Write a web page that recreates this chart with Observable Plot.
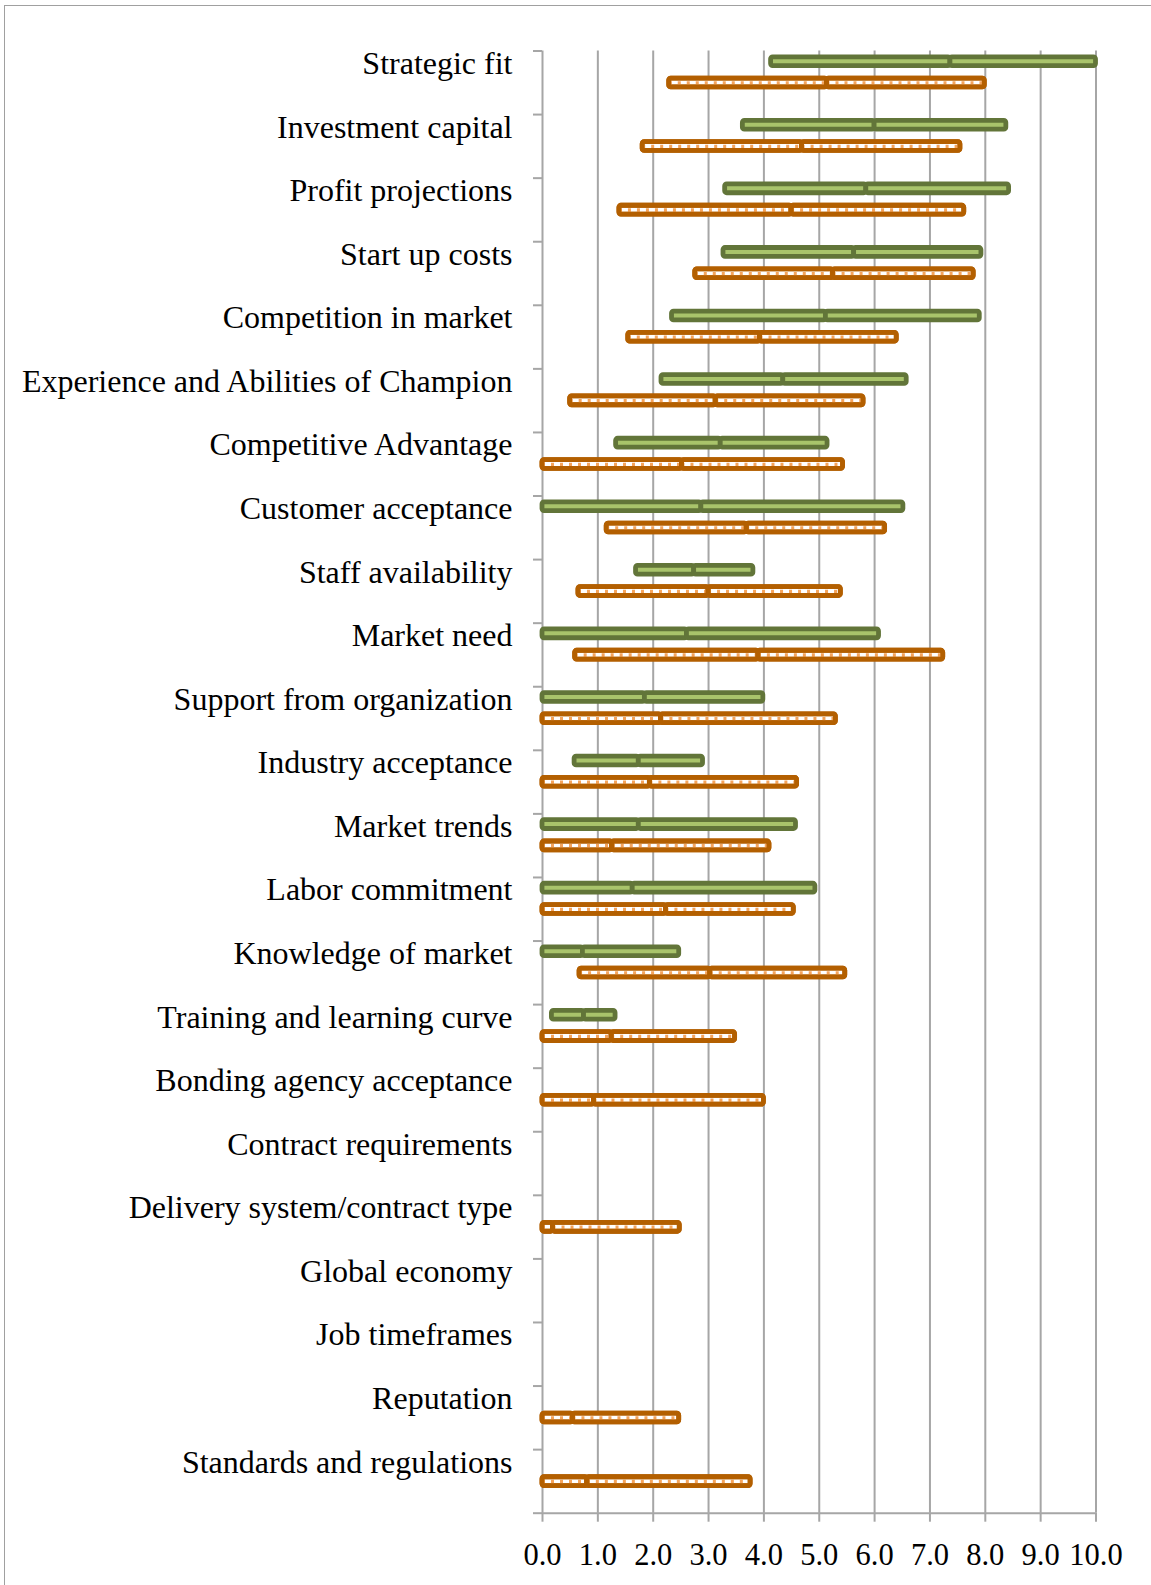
<!DOCTYPE html>
<html><head><meta charset="utf-8">
<script src="https://cdn.jsdelivr.net/npm/d3@7"></script>
<script src="https://cdn.jsdelivr.net/npm/@observablehq/plot@0.6"></script>
<style>
html,body{margin:0;padding:0;background:#fff;overflow:hidden;}
#wrap{position:relative;width:1151px;height:1585px;overflow:hidden;}
#border{position:absolute;left:4px;top:5px;width:1300px;height:1700px;border:1.5px solid #a0a0a0;box-sizing:border-box;pointer-events:none;}
#chart{position:absolute;left:0;top:0;}
</style></head><body><div id="wrap"><div id="chart"></div><div id="border"></div></div>
<script>
const categories = ["Strategic fit","Investment capital","Profit projections","Start up costs","Competition in market","Experience and Abilities of Champion","Competitive Advantage","Customer acceptance","Staff availability","Market need","Support from organization","Industry acceptance","Market trends","Labor commitment","Knowledge of market","Training and learning curve","Bonding agency acceptance","Contract requirements","Delivery system/contract type","Global economy","Job timeframes","Reputation","Standards and regulations"];

const greenMin  = [4.13,3.62,3.30,3.27,2.34,2.15,1.33,0,1.69,0,0,0.58,0,0,0,0.17,null,null,null,null,null,null,null];
const greenMean = [7.37,6.00,5.85,5.63,5.12,4.35,3.22,2.87,2.74,2.61,1.85,1.74,1.74,1.63,0.73,0.75,null,null,null,null,null,null,null];
const greenMax  = [10,8.38,8.43,7.93,7.90,6.58,5.15,6.52,3.81,6.08,3.99,2.90,4.58,4.93,2.47,1.32,null,null,null,null,null,null,null];

const orangeMin  = [2.29,1.81,1.39,2.76,1.55,0.50,0,1.16,0.65,0.59,0,0,0,0,0.67,0,0,null,0,null,null,0,0];
const orangeMean = [5.14,4.69,4.50,5.25,3.93,3.13,2.52,3.69,3.00,3.90,2.14,1.94,1.26,2.23,3.03,1.25,0.93,null,0.19,null,null,0.55,0.81];
const orangeMax  = [7.99,7.55,7.62,7.79,6.40,5.80,5.43,6.19,5.39,7.24,5.30,4.60,4.10,4.54,5.47,3.48,4.00,null,2.48,null,null,2.47,3.76];

const xTicks = [0,1,2,3,4,5,6,7,8,9,10];

const W = 1151, H = 1585, mt = 50.5, mb = 72.3, ml = 542, mr = 55.5;
const bw = (H - mt - mb) / categories.length;
const gray = "#a6a6a6";
const gDark = "#627539", gLight = "#a9c46b";
const oDark = "#b35f00", oDash = "#f4a45c";
const labelFont = 32, tickFont = 30.5;

const green = [], orange = [];
categories.forEach((c, i) => {
  if (greenMin[i] != null) {
    green.push({cat: c, x1: greenMin[i], x2: greenMean[i]});
    green.push({cat: c, x1: greenMean[i], x2: greenMax[i]});
  }
  if (orangeMin[i] != null) {
    orange.push({cat: c, x1: orangeMin[i], x2: orangeMean[i]});
    orange.push({cat: c, x1: orangeMean[i], x2: orangeMax[i]});
  }
});

const gC = 10.7, oC = 32, hh = 4.4, sw = 4.8;
const gIns = {insetTop: gC - hh, insetBottom: bw - gC - hh};
const oIns = {insetTop: oC - hh, insetBottom: bw - oC - hh};

const chart = Plot.plot({
  width: W, height: H,
  marginLeft: ml, marginRight: mr, marginTop: mt, marginBottom: mb,
  style: {fontFamily: "'Liberation Serif', 'Times New Roman', serif", fontSize: "30px", background: "transparent", color: "black"},
  x: {domain: [0, 10]},
  y: {type: "band", domain: categories, padding: 0, round: false},
  marks: [
    Plot.gridX(xTicks, {stroke: gray, strokeOpacity: 1, strokeWidth: 2}),
    Plot.ruleY([categories[categories.length - 1]], {y: d => d, dy: bw / 2, stroke: gray, strokeWidth: 2}),
    Plot.axisX({ticks: xTicks, tickFormat: d => d.toFixed(1), tickSize: 9, tickPadding: 42.3 - 0.71 * tickFont, fontSize: tickFont, stroke: gray, strokeWidth: 2, fill: "black", label: null}),
    Plot.axisY({tickSize: 9, tickFormat: () => "", dy: -bw / 2, stroke: gray, strokeWidth: 2, label: null}),
    Plot.axisY({ticks: [categories[categories.length - 1]], tickSize: 9, tickFormat: () => "", dy: bw / 2, stroke: gray, strokeWidth: 2, label: null}),
    Plot.axisY({tickSize: 0, tickPadding: 30, dy: 23 - 0.32 * labelFont - bw / 2, fontSize: labelFont, fill: "black", label: null}),
    // green
    Plot.barX(green, {y: "cat", x1: "x1", x2: "x2", fill: gLight, stroke: gDark, strokeWidth: sw, rx: 2, ...gIns}),
    // orange
    Plot.barX(orange, {y: "cat", x1: "x1", x2: "x2", fill: "white", stroke: oDark, strokeWidth: sw, rx: 2, ...oIns}),
    Plot.ruleY(orange, {y: "cat", x1: "x1", x2: "x2", dy: oC - bw / 2, stroke: oDash, strokeWidth: 3.6, strokeDasharray: "3,6"}),
    Plot.barX(orange, {y: "cat", x1: "x1", x2: "x2", fill: "none", stroke: oDark, strokeWidth: sw, rx: 2, ...oIns})
  ]
});
document.getElementById("chart").appendChild(chart);
</script>
</body></html>
